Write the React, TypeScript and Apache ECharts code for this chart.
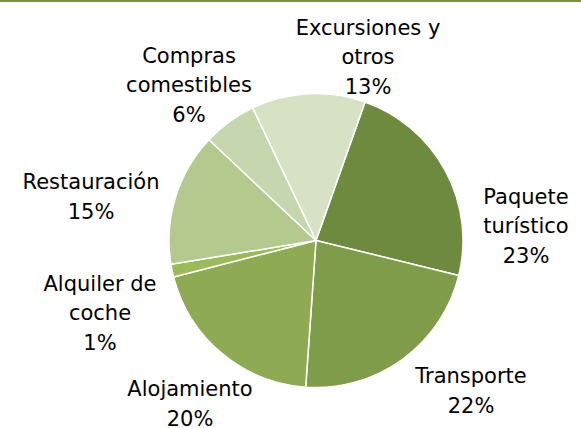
import React, { useEffect, useRef } from "react";
import * as echarts from "echarts";

const categories = [
  "Paquete\nturístico",
  "Transporte",
  "Alojamiento",
  "Alquiler de\ncoche",
  "Restauración",
  "Compras\ncomestibles",
  "Excursiones y\notros",
];
const values = [23.4, 22.3, 19.9, 1.4, 14.6, 5.9, 12.5];
const colors = ["#6e8a3f", "#7f9c4a", "#8eaa52", "#9bbb59", "#b3c98e", "#c6d6ae", "#d7e2c5"];
const labelX = [526, 471, 190, 100, 91, 189, 368];
const labelY = [226, 391, 404, 313, 197, 85, 57];

export default function App() {
  const ref = useRef<HTMLDivElement>(null);
  useEffect(() => {
    if (!ref.current) return;
    const chart = echarts.init(ref.current, null, { renderer: "svg" });
    chart.setOption({
      animation: false,
      backgroundColor: "#ffffff",
      graphic: [
        { type: "rect", left: 0, top: 0, shape: { x: 0, y: 0, width: 581, height: 2 }, style: { fill: "#76923c" } },
      ],
      series: [
        {
          type: "pie",
          center: [316, 240.5],
          radius: 147,
          startAngle: 70.5,
          clockwise: true,
          avoidLabelOverlap: false,
          itemStyle: { borderColor: "#ffffff", borderWidth: 1.5 },
          label: {
            show: true,
            position: "outside",
            fontFamily: "DejaVu Sans",
            fontSize: 21,
            lineHeight: 29.5,
            color: "#000000",
            align: "center",
            formatter: (p: any) => `${p.name}\n${Math.round(p.percent)}%`,
          },
          labelLine: { show: false },
          labelLayout: (params: any) => ({
            x: labelX[params.dataIndex],
            y: labelY[params.dataIndex],
            align: "center",
            verticalAlign: "middle",
          }),
          emphasis: { disabled: true },
          data: categories.map((name, i) => ({
            name,
            value: values[i],
            itemStyle: { color: colors[i] },
          })),
        },
      ],
    });
    return () => chart.dispose();
  }, []);
  return (
    <div
      ref={ref}
      style={{ position: "fixed", left: 0, top: 0, width: 581, height: 428, background: "#fff" }}
    />
  );
}
